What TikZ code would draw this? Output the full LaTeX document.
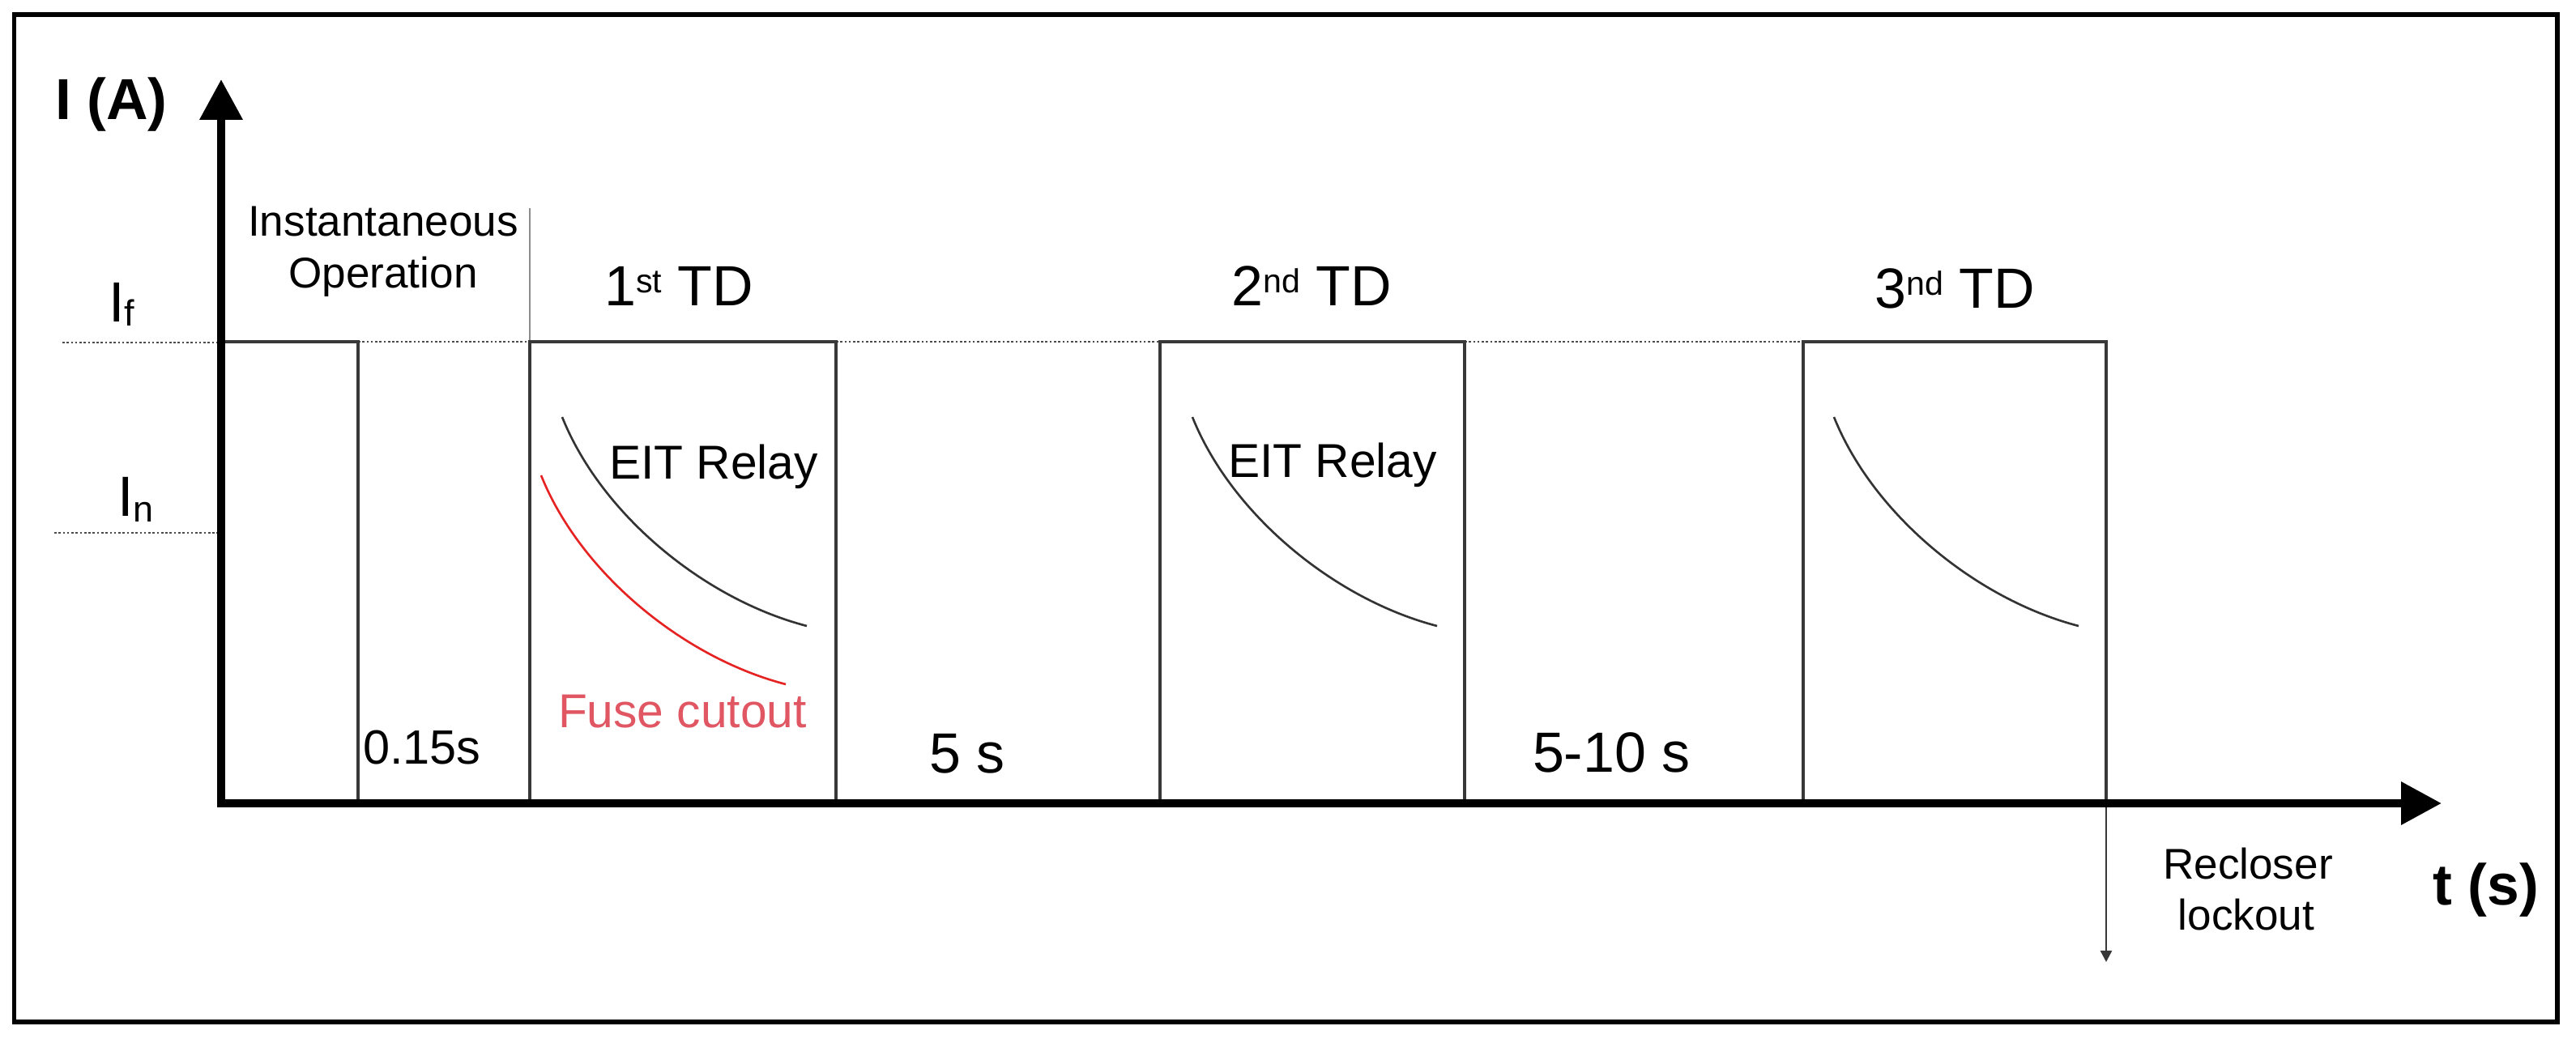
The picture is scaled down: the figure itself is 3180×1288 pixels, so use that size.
\documentclass[tikz,border=0pt]{standalone}
\usepackage{fontspec}
\setmainfont{Liberation Sans}
\usetikzlibrary{arrows.meta}
\definecolor{fusetext}{RGB}{224,86,98}
\definecolor{fusecurve}{RGB}{230,35,35}
\begin{document}
\begin{tikzpicture}[x=0.01cm,y=-0.01cm,
  txt/.style={inner sep=0pt, outer sep=0pt},
  big/.style={txt, font=\fontsize{19.9pt}{23pt}\selectfont},
  mid/.style={txt, font=\fontsize{16.7pt}{19pt}\selectfont},
  zerofive/.style={txt, font=\fontsize{16.9pt}{19pt}\selectfont},
  small/.style={txt, font=\fontsize{15.1pt}{18pt}\selectfont},
  bigbold/.style={txt, font=\fontsize{20.3pt}{23pt}\selectfont\bfseries},
  axisline/.style={line width=2.85pt, line join=miter,
    {Triangle[length=14.2pt,width=14.5pt]}-{Triangle[length=14.2pt,width=14.5pt]}},
  level/.style={black!78, line width=0.9pt},
  dots/.style={black!70, line width=0.7pt, dash pattern=on 0.75pt off 0.75pt},
  relay/.style={black!80, line width=0.75pt},
  fuse/.style={fusecurve, line width=0.75pt},
  frameline/.style={line width=1.7pt}
]
\useasboundingbox (0,0) rectangle (3180,1288);
\draw[frameline] (17.5,18) rectangle (3157,1262);

% key coordinates
\coordinate (ytip) at (273,98);
\coordinate (O) at (273,992);
\coordinate (xtip) at (3014,992);

\coordinate (f0) at (273,422);
\coordinate (a1t) at (442,422);  \coordinate (a1b) at (442,992);
\coordinate (b1t) at (654,422);  \coordinate (b1b) at (654,992);
\coordinate (c1t) at (1032,422); \coordinate (c1b) at (1032,992);
\coordinate (b2t) at (1432,422); \coordinate (b2b) at (1432,992);
\coordinate (c2t) at (1808,422); \coordinate (c2b) at (1808,992);
\coordinate (b3t) at (2226,422); \coordinate (b3b) at (2226,992);
\coordinate (c3t) at (2600,422); \coordinate (c3b) at (2600,992);
\coordinate (lock) at (2600,1188);
\coordinate (divtop) at (654,257);
\coordinate (ifl) at (77,423);   \coordinate (ifr) at (268,423);
\coordinate (inl) at (67,658);   \coordinate (inr) at (268,658);

% dotted reference levels
\draw[dots] (ifl) -- (ifr);
\draw[dots] (inl) -- (inr);
\draw[dots] (a1t) -- (b1t);
\draw[dots] (c1t) -- (b2t);
\draw[dots] (c2t) -- (b3t);

% divider
\draw[black!45, line width=0.4pt] (divtop) -- (b1t);

% pulses
\draw[level] (f0) -- (a1t) -- (a1b);
\draw[level] (b1b) -- (b1t) -- (c1t) -- (c1b);
\draw[level] (b2b) -- (b2t) -- (c2t) -- (c2b);
\draw[level] (b3b) -- (b3t) -- (c3t) -- (c3b);
\draw[black!78, line width=0.7pt, -{Triangle[length=4pt,width=4pt]}] (c3b) -- (lock);

% curves
\begin{scope}[shift={(654,0)}]
  \draw[relay] (40,515) .. controls (88,635) and (215,740) .. (342,773);
  \draw[fuse] (14,587) .. controls (62,707) and (189,812) .. (316,845);
\end{scope}
\begin{scope}[shift={(1432,0)}]
  \draw[relay] (40,515) .. controls (88,635) and (215,740) .. (342,773);
\end{scope}
\begin{scope}[shift={(2226,0)}]
  \draw[relay] (38,515) .. controls (86,635) and (213,740) .. (340,773);
\end{scope}

% axes
\draw[axisline] (ytip) -- (O) -- (xtip);

% texts
\node[bigbold, anchor=base west] (IA) at (68,148) {I (A)};
\node[bigbold, anchor=base west] (ts) at (3003,1117) {t (s)};
\node[big, anchor=base west] (If) at (134,397) {I\raisebox{-0.08em}{\fontsize{12.8pt}{14pt}\selectfont f}};
\node[big, anchor=base west] (In) at (145,637) {I\raisebox{-0.1em}{\fontsize{12.8pt}{14pt}\selectfont n}};
\node[small, anchor=base] (inst1) at (473,292) {Instantaneous};
\node[small, anchor=base] (inst2) at (473,356) {Operation};
\node[big, anchor=base] (td1) at (838,377) {1\raisebox{0.22em}{\fontsize{11.7pt}{13pt}\selectfont st} TD};
\node[big, anchor=base] (td2) at (1619,377) {2\raisebox{0.22em}{\fontsize{11.7pt}{13pt}\selectfont nd} TD};
\node[big, anchor=base] (td3) at (2413,380) {3\raisebox{0.22em}{\fontsize{11.7pt}{13pt}\selectfont nd} TD};
\node[mid, anchor=base west] (eit1) at (752,591) {EIT Relay};
\node[mid, anchor=base west] (eit2) at (1516,590) {EIT Relay};
\node[mid, anchor=base west, text=fusetext] (fusel) at (689,898) {Fuse cutout};
\node[zerofive, anchor=base west] (t015) at (448,943) {0.15s};
\node[big, anchor=base west] (t5) at (1147,954) {5 s};
\node[big, anchor=base west] (t510) at (1892,953) {5-10 s};
\node[small, anchor=base] (rec1) at (2775,1085) {Recloser};
\node[small, anchor=base] (rec2) at (2773,1148) {lockout};
\end{tikzpicture}
\end{document}
